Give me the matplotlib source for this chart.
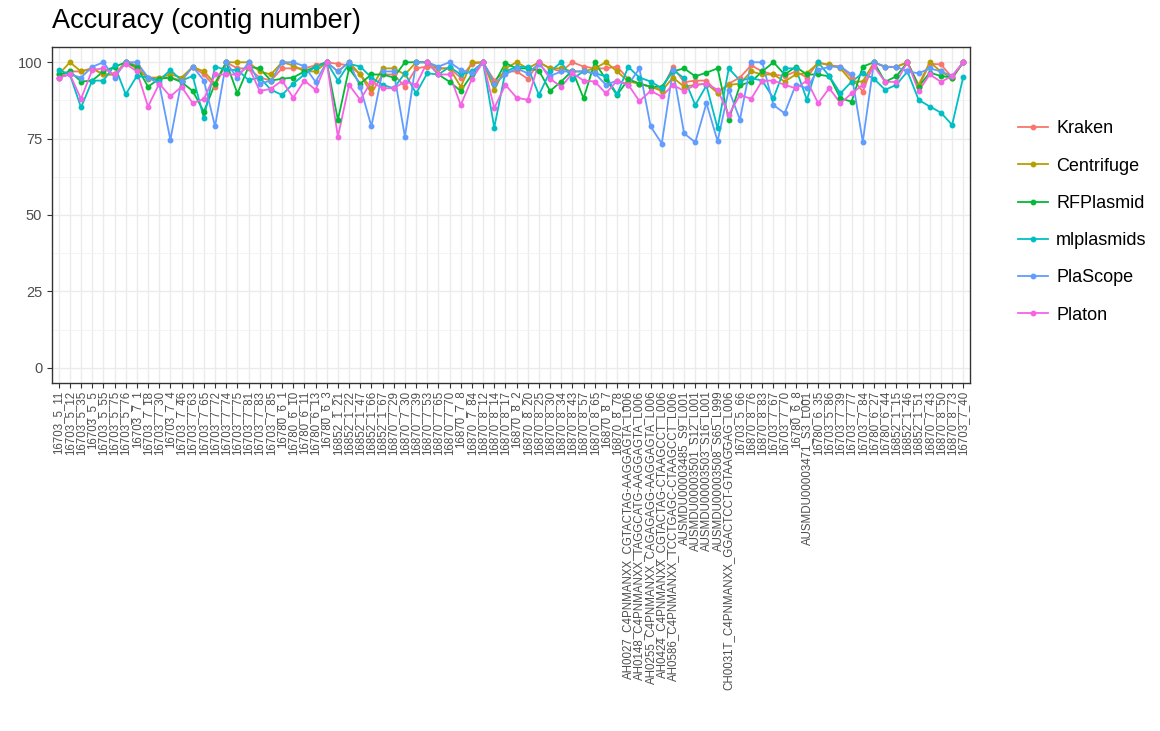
import numpy as np
import matplotlib
matplotlib.use("Agg")
import matplotlib.pyplot as plt
from matplotlib.lines import Line2D
from matplotlib.ticker import MultipleLocator

plt.rcParams['font.family'] = ['Liberation Sans', 'DejaVu Sans']

samples = [
    "16703_5_11", "16703_5_12", "16703_5_35", "16703_5_5", "16703_5_55", "16703_5_75",
    "16703_5_76", "16703_7_1", "16703_7_18", "16703_7_30", "16703_7_4", "16703_7_46",
    "16703_7_63", "16703_7_65", "16703_7_72", "16703_7_74", "16703_7_75", "16703_7_81",
    "16703_7_83", "16703_7_85", "16780_6_1", "16780_6_10", "16780_6_11", "16780_6_13",
    "16780_6_3", "16852_1_21", "16852_1_22", "16852_1_47", "16852_1_66", "16852_1_67",
    "16870_7_29", "16870_7_30", "16870_7_39", "16870_7_53", "16870_7_65", "16870_7_70",
    "16870_7_8", "16870_7_84", "16870_8_12", "16870_8_14", "16870_8_17", "16870_8_2",
    "16870_8_20", "16870_8_25", "16870_8_30", "16870_8_34", "16870_8_43", "16870_8_57",
    "16870_8_65", "16870_8_7", "16870_8_78",
    "AH0027_C4PNMANXX_CGTACTAG-AAGGAGTA_L006",
    "AH0148_C4PNMANXX_TAGGCATG-AAGGAGTA_L006",
    "AH0255_C4PNMANXX_CAGAGAGG-AAGGAGTA_L006",
    "AH0424_C4PNMANXX_CGTACTAG-CTAAGCCT_L006",
    "AH0586_C4PNMANXX_TCCTGAGC-CTAAGCCT_L006",
    "AUSMDU00003485_S9_L001", "AUSMDU00003501_S12_L001", "AUSMDU00003503_S16_L001",
    "AUSMDU00003508_S65_L999",
    "CH0031T_C4PNMANXX_GGACTCCT-GTAAGGAG_L006",
    "16703_5_66", "16870_8_76", "16870_8_83", "16703_7_67", "16703_7_70", "16780_6_8",
    "AUSMDU00003471_S3_L001", "16780_6_35", "16703_5_86", "16703_7_39", "16703_7_77",
    "16703_7_84", "16780_6_27", "16780_6_44", "16852_1_15", "16852_1_46", "16852_1_51",
    "16870_7_43", "16870_8_50", "16870_8_73", "16703_7_40",
]

kraken = [
    95, 97, 97, 98, 96, 96, 100, 99, 95, 95, 95, 94, 98.5, 96, 92, 100, 98, 98, 95, 94,
    98, 98, 98, 99, 100, 99.5, 99, 96, 89.8, 96, 96, 92, 98, 98.6, 98, 98, 95, 99.5, 100, 94,
    97, 97, 94.6, 100, 98, 97, 100, 98.6, 98, 98, 98.6, 94.5, 93, 92, 91, 98.5, 93.5, 94, 94, 90,
    93, 95, 99, 97, 96, 95.5, 97, 95, 100, 99, 98.6, 95, 90.4, 100, 98.5, 98.5, 100, 92, 99.5, 99.3,
    95, 100,
]
centrifuge = [
    96, 100, 97, 98, 96, 96, 100, 98, 94.6, 95, 96, 95, 98.5, 97, 93, 100, 100, 100, 97, 96,
    100, 99, 97, 97, 100, 97, 100, 96, 91.5, 98, 98, 96, 100, 100, 98, 98, 92, 100, 100, 91,
    98, 100, 98, 100, 98, 98, 97, 97, 98, 100, 97, 93.7, 93, 92, 90.6, 95, 92, 92.6, 93, 90,
    92.6, 93, 97, 96, 96, 93.7, 96, 96.5, 99.7, 99.3, 98, 93.7, 93.7, 100, 98.5, 98.5, 100, 92.6, 100, 97,
    94.7, 100,
]
rfplasmid = [
    96, 97, 93.7, 94, 97, 98.5, 100, 98.5, 92, 94.6, 95, 93.5, 90.6, 83.8, 93, 100, 89.8, 98.5, 98, 94,
    94.6, 95, 97, 98.5, 100, 81.1, 98, 93, 96, 96, 95, 100, 100, 100, 96, 93.6, 90.6, 96, 100, 93,
    99.7, 98, 98, 97.3, 90.6, 93.7, 97.3, 88.2, 100, 94.4, 89.3, 94.4, 93, 92, 92, 97, 98, 95.4, 96.6, 98,
    81.2, 92.5, 93.6, 97, 100, 96, 98.5, 96, 96, 95.4, 88.2, 87.1, 98.6, 100, 93.6, 95.4, 100, 92, 96.6, 95.5,
    95, 100,
]
mlplasmids = [
    97.5, 96, 85.2, 94, 94, 99, 89.5, 95.5, 95, 94, 97.5, 94, 95.5, 81.7, 98.6, 97.5, 97.5, 94.2, 95, 91,
    89.3, 93, 96, 98.5, 100, 94, 99.5, 98.6, 95, 92.6, 91.5, 96.4, 89.8, 96.4, 96, 98.5, 96, 97, 100, 78.6,
    97, 98.5, 98.5, 89.3, 97, 100, 94.6, 97, 96.4, 95.4, 89.5, 98.5, 95, 93.7, 91.5, 97.5, 94.8, 86, 92.4, 78.4,
    98, 94, 94.8, 94, 88.2, 98, 98, 87.7, 100, 95.5, 89.8, 93.7, 96.4, 94.6, 91, 92.6, 97, 87.7, 85.5, 83.5,
    79.5, 95.3,
]
plascope = [
    95, 96, 95, 98.5, 100, 95, 100, 100, 95, 93, 74.6, 94, 98.6, 94, 79, 100, 94.8, 100, 93, 94,
    100, 100, 98.7, 93.6, 100, 97, 100, 92, 79, 97, 97, 75.6, 100, 100, 98.6, 100, 97.5, 96.4, 100, 93,
    96, 98, 96.4, 99.5, 95.5, 97, 97, 97, 96.4, 92.6, 94, 92.6, 98, 79, 73.4, 97.5, 76.7, 73.8, 86.6, 74.2,
    91, 81.2, 100, 100, 86, 83.3, 92.6, 91.5, 97.5, 98.5, 98.6, 96, 74, 100, 98.5, 98.5, 97, 96.4, 98, 97,
    95.5, 100,
]
platon = [
    95, 96, 88, 97.5, 98, 96, 99.5, 97, 85.5, 93, 88.8, 92, 86.6, 88, 96, 96, 96, 98.6, 90.6, 91.3,
    94, 88.4, 94, 91, 100, 75.6, 92.6, 87.7, 93.7, 91.5, 91.5, 93.7, 92.6, 100, 96, 96, 86, 94.6, 100, 85,
    92.6, 88.4, 87.7, 100, 94.6, 92, 96.4, 94, 93.7, 89.8, 94, 92.6, 87.3, 90.6, 88.8, 92.6, 90.6, 92.6, 93, 91,
    82.8, 89.3, 88, 94, 94, 92.6, 91.5, 94, 86.6, 91.5, 86.6, 89.8, 92.6, 98.7, 93.6, 93.6, 100, 90.6, 96, 93.6,
    95.5, 100,
]

tools = ["Kraken", "Centrifuge", "RFPlasmid", "mlplasmids", "PlaScope", "Platon"]
values = [kraken, centrifuge, rfplasmid, mlplasmids, plascope, platon]
colors = ["#F8766D", "#B79F00", "#00BA38", "#00BFC4", "#619CFF", "#F564E3"]

fig = plt.figure(figsize=(11.6, 7.31), dpi=100)
ax = fig.add_axes([52 / 1160, 1 - 383 / 731, (970 - 52) / 1160, (383 - 47) / 731])

x = np.arange(len(samples))
# all lines first, then the points on top
for vals, col in zip(values, colors):
    ax.plot(x, vals, color=col, lw=1.3, zorder=2)
for vals, col in zip(values, colors):
    ax.plot(x, vals, 'o', color=col, ms=3.2, zorder=3)

ax.set_xlim(-0.6, len(samples) - 0.4)
ax.set_ylim(-5, 105)
ax.yaxis.set_major_locator(MultipleLocator(25))
ax.yaxis.set_minor_locator(MultipleLocator(12.5))
ax.set_xticks(x)
ax.set_xticklabels(samples, rotation=90, fontsize=8.3, color="#4D4D4D")
ax.tick_params(axis='y', labelsize=10.5, colors="#333333", labelcolor="#4D4D4D", length=3.5)
ax.tick_params(axis='x', length=3.5, color="#333333", pad=2)
ax.tick_params(axis='y', which='minor', length=0)

ax.grid(True, which='major', color="#EBEBEB", lw=1.0, zorder=0)
ax.grid(True, which='minor', axis='y', color="#F2F2F2", lw=0.6, zorder=0)
ax.set_axisbelow(True)
for s in ax.spines.values():
    s.set_color("#333333")
    s.set_linewidth(1.0)

fig.text(52 / 1160, 1 - 21 / 731, "Accuracy (contig number)", fontsize=19.5,
         va='center', ha='left')

handles = [Line2D([0], [0], color=c, lw=1.3, marker='o', ms=3.2) for c in colors]
fig.legend(handles, tools, loc='center left', bbox_to_anchor=(1002 / 1160, 1 - 222 / 731),
           frameon=False, fontsize=13, handlelength=1.65, labelspacing=1.12,
           handletextpad=0.45)

fig.savefig("out.png", dpi=100)
